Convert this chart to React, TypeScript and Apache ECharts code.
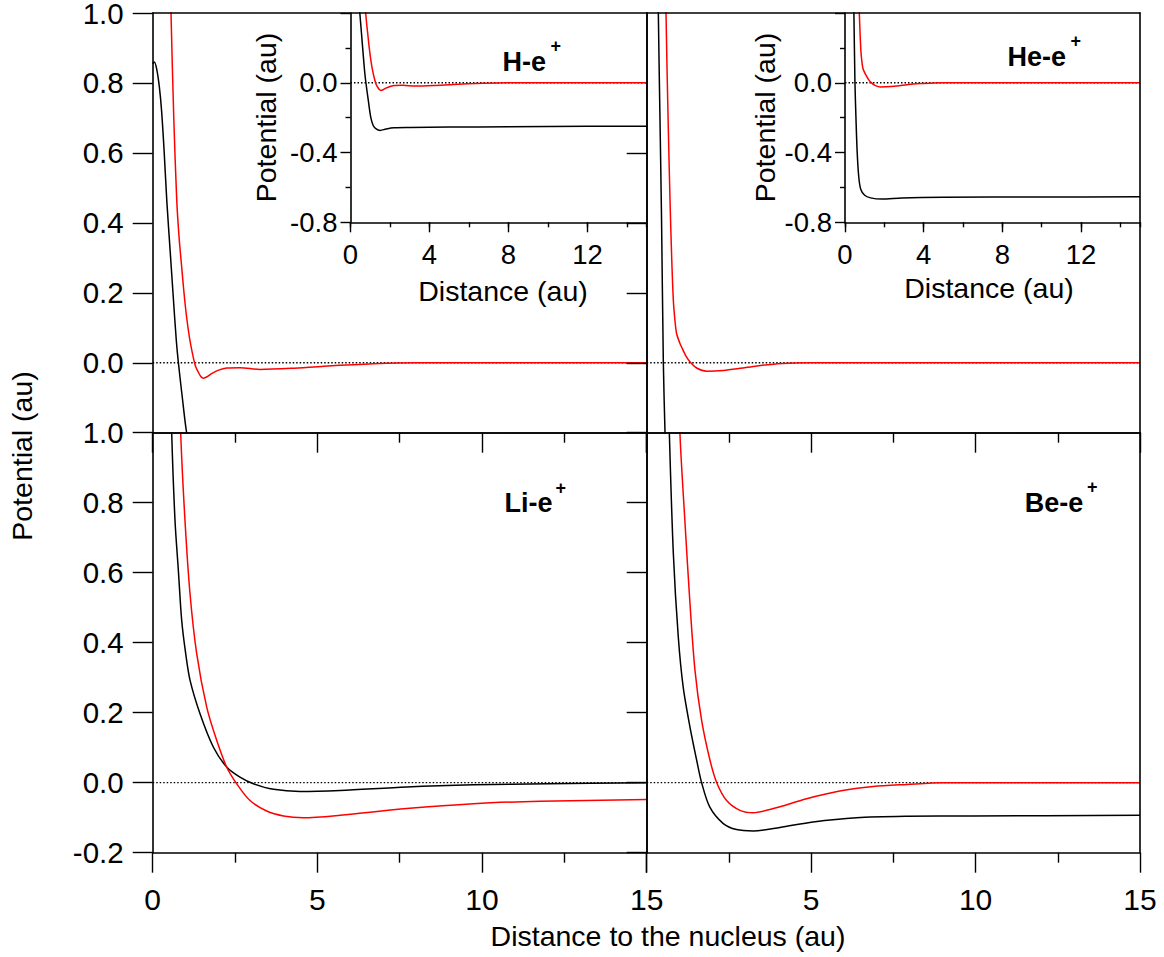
import React, { useEffect, useRef } from 'react';
import * as echarts from 'echarts';

const FONT = "'Liberation Sans', Arial, Helvetica, sans-serif";

// ---- Data (x = distance in au, y = potential in au) ----
// H-e+ (top-left panel and its inset)
const hBlackX = [0, 0.05, 0.12, 0.2, 0.27, 0.35, 0.43, 0.53, 0.63, 0.72, 0.78, 0.9, 1.03, 1.15, 1.3, 1.5, 1.8, 2.2, 3, 5, 8, 12, 15];
const hBlackY = [0.855, 0.86, 0.84, 0.79, 0.72, 0.6, 0.46, 0.32, 0.18, 0.06, 0.0, -0.1, -0.2, -0.245, -0.265, -0.273, -0.265, -0.258, -0.256, -0.254, -0.252, -0.25, -0.25];
const hRedX = [0.3, 0.45, 0.556, 0.64, 0.73, 0.8, 0.88, 0.95, 1.03, 1.12, 1.23, 1.3, 1.385, 1.46, 1.54, 1.65, 1.79, 2.0, 2.25, 2.65, 3.26, 4.2, 5.2, 6.7, 8, 15];
const hRedY = [3.0, 1.5, 1.0, 0.7, 0.465, 0.36, 0.274, 0.2, 0.13, 0.07, 0.016, -0.01, -0.027, -0.039, -0.044, -0.04, -0.031, -0.021, -0.015, -0.014, -0.019, -0.016, -0.01, -0.003, 0, 0];

// He-e+ (top-right panel and its inset)
const heBlackX = [0.2, 0.3, 0.354, 0.4, 0.45, 0.506, 0.557, 0.62, 0.7, 0.8, 1.0, 1.3, 1.86, 2.9, 5, 10, 15];
const heBlackY = [3.0, 1.5, 1.0, 0.72, 0.42, 0.0, -0.2, -0.4, -0.54, -0.61, -0.645, -0.66, -0.667, -0.66, -0.656, -0.655, -0.654];
const heRedX = [0.4, 0.5, 0.587, 0.65, 0.709, 0.76, 0.81, 0.86, 0.91, 1.0, 1.06, 1.2, 1.32, 1.52, 1.82, 2.33, 2.84, 3.35, 3.86, 4.5, 5, 15];
const heRedY = [3.0, 1.6, 1.0, 0.7, 0.465, 0.3, 0.179, 0.12, 0.083, 0.058, 0.045, 0.018, 0.002, -0.015, -0.024, -0.022, -0.016, -0.009, -0.004, -0.001, 0, 0];

// Li-e+ (bottom-left panel)
const liBlackX = [0.45, 0.577, 0.677, 0.779, 0.88, 1.0, 1.133, 1.437, 1.84, 2.245, 2.65, 3.06, 3.67, 4.47, 5.69, 7.71, 9.74, 12, 15];
const liBlackY = [1.5, 1.0, 0.75, 0.607, 0.464, 0.37, 0.293, 0.197, 0.102, 0.045, 0.016, -0.003, -0.019, -0.025, -0.022, -0.012, -0.006, -0.003, 0];
const liRedX = [0.7, 0.85, 0.98, 1.133, 1.336, 1.64, 1.943, 2.245, 2.55, 2.955, 3.46, 3.97, 4.57, 5.69, 7.71, 9.74, 11.76, 15];
const liRedY = [1.5, 1.0, 0.75, 0.54, 0.369, 0.216, 0.121, 0.045, -0.003, -0.051, -0.081, -0.095, -0.1, -0.093, -0.074, -0.06, -0.053, -0.048];

// Be-e+ (bottom-right panel)
const beBlackX = [0.55, 0.688, 0.81, 0.96, 1.11, 1.316, 1.52, 1.67, 1.92, 2.33, 2.73, 3.24, 4.05, 5.06, 6.38, 7.9, 9.9, 15];
const beBlackY = [1.5, 1.0, 0.655, 0.417, 0.273, 0.159, 0.064, 0.0, -0.07, -0.117, -0.134, -0.138, -0.128, -0.112, -0.1, -0.096, -0.095, -0.093];
const beRedX = [0.85, 1.01, 1.16, 1.316, 1.468, 1.67, 1.925, 2.13, 2.43, 2.835, 3.24, 3.85, 4.86, 5.87, 6.88, 7.9, 9, 15];
const beRedY = [1.5, 1.0, 0.75, 0.512, 0.321, 0.178, 0.064, 0.0, -0.051, -0.079, -0.086, -0.074, -0.046, -0.024, -0.011, -0.005, 0, 0];

// zero reference line
const zeroX = [0, 15];
const zeroY = [0, 0];

// axis settings
const mainXTicks = { min: 0, max: 15, interval: 5 };
const mainYTicks = { min: -0.2, max: 1.0, interval: 0.2 };
const insetXTicks = { min: 0, max: 15, interval: 4 };
const insetXMinor = { min: 0, max: 15, interval: 2 };
const insetYTicks = { min: -0.8, max: 0.4, interval: 0.4 };
const tlRightTickValues = [0, 0.2, 0.4, 0.6];

const zip = (xs: number[], ys: number[]) => xs.map((x, i) => [x, ys[i]]);
const fmt1 = (v: number) => (Math.abs(v) < 1e-9 ? '0.0' : v.toFixed(1));

const LINE = { color: '#000', width: 1.6 };
const TICK = { color: '#000', width: 1.4 };
const MAIN_Z = 10;
const INSET_AXIS_Z = 7;

const noSplit = { show: false };

function lineOnlyX(gridIndex: number, position: string) {
  return {
    type: 'value', gridIndex, position, ...mainXTicks, z: MAIN_Z,
    axisLine: { show: true, onZero: false, lineStyle: LINE },
    axisTick: { show: false }, axisLabel: { show: false }, splitLine: noSplit,
  };
}
function lineOnlyY(gridIndex: number, position: string) {
  return {
    type: 'value', gridIndex, position, ...mainYTicks, z: MAIN_Z,
    axisLine: { show: true, onZero: false, lineStyle: LINE },
    axisTick: { show: false }, axisLabel: { show: false }, splitLine: noSplit,
  };
}
function mainBottomX(gridIndex: number, labels: boolean, hideZero: boolean) {
  return {
    type: 'value', gridIndex, position: 'bottom', ...mainXTicks, z: MAIN_Z,
    axisLine: { show: true, onZero: false, lineStyle: LINE },
    axisTick: { show: true, inside: false, length: 20, lineStyle: TICK },
    minorTick: { show: true, splitNumber: 2, length: 10, lineStyle: TICK },
    axisLabel: {
      show: labels, margin: 32, fontSize: 30, fontFamily: FONT, color: '#000',
      showMinLabel: !hideZero, showMaxLabel: true,
      formatter: (v: number) => (hideZero && v === 0 ? '' : String(v)),
    },
    splitLine: noSplit,
  };
}
function mainLeftY(gridIndex: number, labels: boolean, hideBottom: boolean) {
  return {
    type: 'value', gridIndex, position: 'left', ...mainYTicks, z: MAIN_Z,
    axisLine: { show: true, onZero: false, lineStyle: LINE },
    axisTick: { show: true, inside: false, length: 20, lineStyle: TICK },
    axisLabel: {
      show: labels, margin: 29, fontSize: 29.5, lineHeight: 24, fontFamily: FONT, color: '#000',
      showMinLabel: !hideBottom, showMaxLabel: true,
      formatter: (v: number) => (hideBottom && v < -0.1 ? '' : fmt1(v)),
    },
    splitLine: noSplit,
  };
}
function mainRightY(gridIndex: number, custom?: number[]) {
  const tick: any = { show: true, inside: true, length: 20, lineStyle: TICK };
  if (custom) tick.customValues = custom;
  return {
    type: 'value', gridIndex, position: 'right', ...mainYTicks, z: MAIN_Z,
    axisLine: { show: true, onZero: false, lineStyle: LINE },
    axisTick: tick, axisLabel: { show: false }, splitLine: noSplit,
  };
}
function insetX(gridIndex: number) {
  return {
    type: 'value', gridIndex, position: 'bottom', ...insetXTicks, z: INSET_AXIS_Z,
    axisLine: { show: true, onZero: false, lineStyle: LINE },
    axisTick: { show: true, inside: false, length: 10, lineStyle: TICK },
    axisLabel: {
      show: true, margin: 18, fontSize: 27.5, fontFamily: FONT, color: '#000',
      showMaxLabel: false,
      formatter: (v: number) => (v === 15 ? '' : String(v)),
    },
    splitLine: noSplit,
  };
}
function insetXMinorAxis(gridIndex: number) {
  return {
    type: 'value', gridIndex, position: 'bottom', ...insetXMinor, z: INSET_AXIS_Z,
    axisLine: { show: false, onZero: false },
    axisTick: { show: true, inside: false, length: 5, lineStyle: TICK },
    axisLabel: { show: false }, splitLine: noSplit,
  };
}
function insetY(gridIndex: number) {
  return {
    type: 'value', gridIndex, position: 'left', ...insetYTicks, z: INSET_AXIS_Z,
    axisLine: { show: true, onZero: false, lineStyle: LINE },
    axisTick: { show: true, inside: false, length: 10, lineStyle: TICK },
    minorTick: { show: true, splitNumber: 2, length: 5, lineStyle: TICK },
    axisLabel: {
      show: true, margin: 13, fontSize: 27.5, fontFamily: FONT, color: '#000',
      showMaxLabel: false,
      formatter: (v: number) => (v > 0.3 ? '' : fmt1(v)),
    },
    splitLine: noSplit,
  };
}

function curve(xi: number, yi: number, xs: number[], ys: number[], color: string, z: number) {
  return {
    type: 'line', xAxisIndex: xi, yAxisIndex: yi, data: zip(xs, ys),
    showSymbol: false, symbol: 'none', smooth: 0.3, clip: true, silent: true, z,
    lineStyle: { color, width: 1.5 },
  };
}
function zeroLine(xi: number, yi: number, z: number) {
  return {
    type: 'line', xAxisIndex: xi, yAxisIndex: yi, data: zip(zeroX, zeroY),
    showSymbol: false, symbol: 'none', clip: true, silent: true, z,
    lineStyle: { color: '#000', width: 1.3, type: [1.5, 2] },
  };
}

function txt(x: number, y: number, text: string, size: number, opts: any = {}) {
  const align = opts.align || 'center';
  return {
    type: 'text', x, y, rotation: opts.rotation || 0, z: 20, silent: true,
    style: {
      text, fill: '#000', fontSize: size, fontFamily: FONT,
      fontWeight: opts.bold ? 'bold' : 'normal',
      align, verticalAlign: 'middle', textAlign: align, textVerticalAlign: 'middle',
    },
  };
}

export default function App() {
  const ref = useRef<HTMLDivElement>(null);
  useEffect(() => {
    if (!ref.current) return;
    const chart = echarts.init(ref.current, undefined, { renderer: 'svg' });
    const grid = (left: number, top: number, width: number, height: number, inset = false) => ({
      left, top, width, height, containLabel: false, outerBoundsMode: 'none',
      show: inset, backgroundColor: '#fff', borderWidth: 0, z: inset ? 4 : 0,
    });
    const option: any = {
      animation: false,
      backgroundColor: '#fff',
      grid: [
        grid(152.7, 13, 494, 419.7),
        grid(646.7, 13, 493.3, 419.7),
        grid(152.7, 432.7, 494, 420),
        grid(646.7, 432.7, 493.3, 420),
        grid(350.5, 13, 296.2, 209.3, true),
        grid(845, 13, 295, 209.3, true),
      ],
      xAxis: [
        mainBottomX(0, false, false), // 0
        lineOnlyX(0, 'top'), // 1
        mainBottomX(1, false, false), // 2
        lineOnlyX(1, 'top'), // 3
        mainBottomX(2, true, false), // 4
        lineOnlyX(2, 'top'), // 5
        mainBottomX(3, true, true), // 6
        lineOnlyX(3, 'top'), // 7
        insetX(4), // 8
        insetXMinorAxis(4), // 9
        insetX(5), // 10
        insetXMinorAxis(5), // 11
      ],
      yAxis: [
        mainLeftY(0, true, true), // 0
        mainRightY(0, tlRightTickValues), // 1
        lineOnlyY(1, 'left'), // 2
        lineOnlyY(1, 'right'), // 3
        mainLeftY(2, true, false), // 4
        mainRightY(2), // 5
        lineOnlyY(3, 'left'), // 6
        lineOnlyY(3, 'right'), // 7
        insetY(4), // 8
        insetY(5), // 9
      ],
      series: [
        zeroLine(0, 0, 1),
        curve(0, 0, hBlackX, hBlackY, '#000', 2),
        curve(0, 0, hRedX, hRedY, '#ff0000', 3),
        zeroLine(2, 2, 1),
        curve(2, 2, heBlackX, heBlackY, '#000', 2),
        curve(2, 2, heRedX, heRedY, '#ff0000', 3),
        zeroLine(4, 4, 1),
        curve(4, 4, liBlackX, liBlackY, '#000', 2),
        curve(4, 4, liRedX, liRedY, '#ff0000', 3),
        zeroLine(6, 6, 1),
        curve(6, 6, beBlackX, beBlackY, '#000', 2),
        curve(6, 6, beRedX, beRedY, '#ff0000', 3),
        zeroLine(8, 8, 5),
        curve(8, 8, hBlackX, hBlackY, '#000', 6),
        curve(8, 8, hRedX, hRedY, '#ff0000', 6),
        zeroLine(10, 9, 5),
        curve(10, 9, heBlackX, heBlackY, '#000', 6),
        curve(10, 9, heRedX, heRedY, '#ff0000', 6),
      ],
      graphic: [
        txt(22, 456, 'Potential (au)', 28.5, { rotation: Math.PI / 2 }),
        txt(668, 936, 'Distance to the nucleus (au)', 28.5),
        txt(265.5, 117.5, 'Potential (au)', 28.5, { rotation: Math.PI / 2 }),
        txt(503, 290.5, 'Distance (au)', 28.5),
        txt(765, 117.5, 'Potential (au)', 28.5, { rotation: Math.PI / 2 }),
        txt(989, 287.5, 'Distance (au)', 28.5),
        txt(502.5, 62.3, 'H-e', 27, { bold: true, align: 'left' }),
        txt(550.5, 46.3, '+', 18, { bold: true, align: 'left' }),
        txt(1007.5, 56.7, 'He-e', 27, { bold: true, align: 'left' }),
        txt(1070.5, 40.8, '+', 18, { bold: true, align: 'left' }),
        txt(504.5, 503.3, 'Li-e', 27, { bold: true, align: 'left' }),
        txt(555.5, 487.5, '+', 18, { bold: true, align: 'left' }),
        txt(1024.7, 503, 'Be-e', 27, { bold: true, align: 'left' }),
        txt(1087, 487.3, '+', 18, { bold: true, align: 'left' }),
      ],
    };
    chart.setOption(option);
    return () => chart.dispose();
  }, []);
  return (
    <div
      ref={ref}
      style={{ position: 'absolute', left: 0, top: 0, width: 1164, height: 957, background: '#fff' }}
    />
  );
}
